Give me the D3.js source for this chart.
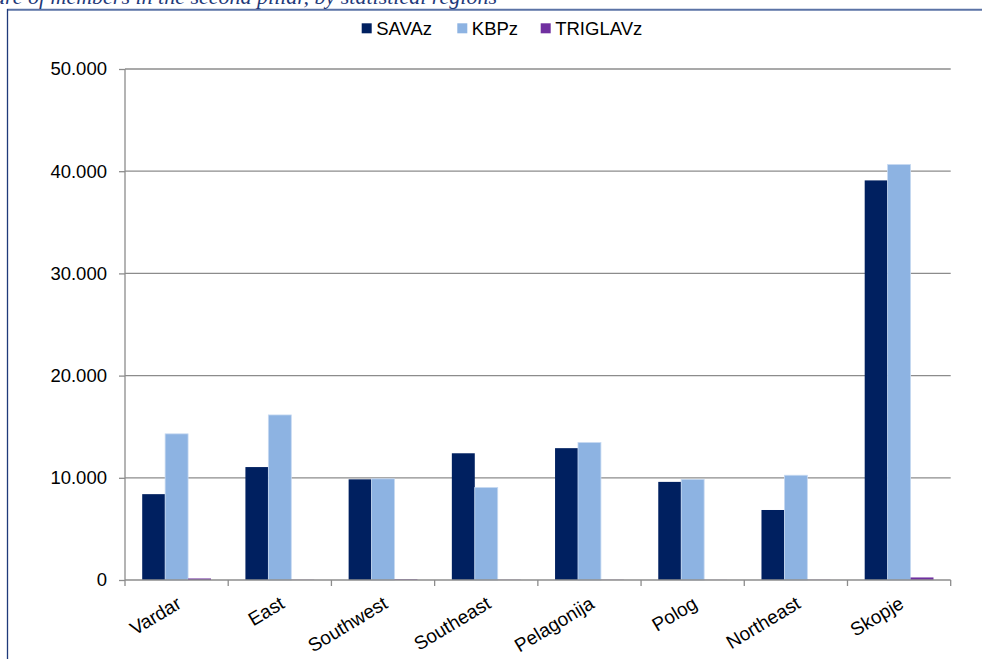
<!DOCTYPE html>
<html>
<head>
<meta charset="utf-8">
<script src="https://cdn.jsdelivr.net/npm/d3@7"></script>
<style>
  html, body { margin: 0; padding: 0; background: #fff; }
  svg { display: block; }
</style>
</head>
<body>
<svg id="chart" width="982" height="659"></svg>
<script>
const categories = ["Vardar", "East", "Southwest", "Southeast", "Pelagonija", "Polog", "Northeast", "Skopje"];
const seriesNames = ["SAVAz", "KBPz", "TRIGLAVz"];
const savaValues = [8400, 11050, 9850, 12400, 12900, 9600, 6850, 39100];
const kbpValues = [14300, 16150, 9900, 9050, 13450, 9850, 10250, 40650];
const triglavValues = [150, 20, 60, 20, 20, 10, 20, 250];
const yTicks = [0, 10000, 20000, 30000, 40000, 50000];
const yTickLabels = ["0", "10.000", "20.000", "30.000", "40.000", "50.000"];
const colors = ["#002060", "#8DB3E2", "#7030A0"];
const titleText = "Structure of members in the second pillar, by statistical regions";

(function () {
const svg = d3.select("#chart");
const font = "'Liberation Sans', Arial, sans-serif";

const pLeft = 125, pRight = 950.7, pTop = 69, pBottom = 580;

// frame
svg.append("line").attr("x1", 7).attr("x2", 982).attr("y1", 9.8).attr("y2", 9.8)
  .attr("stroke", "#5B73A6").attr("stroke-width", 2);
svg.append("line").attr("x1", 7.5).attr("x2", 7.5).attr("y1", 9).attr("y2", 659)
  .attr("stroke", "#1F3A7A").attr("stroke-width", 1.3);

// cut-off title (the reference shows only its lower part)
svg.append("text").attr("x", 497).attr("y", 3.5)
  .attr("text-anchor", "end")
  .attr("font-family", "'Liberation Serif', 'Times New Roman', serif")
  .attr("font-style", "italic")
  .attr("font-size", 22)
  .attr("fill", "#1F3A7A")
  .text(titleText);

const data = categories.map((c, i) => ({
  cat: c,
  vals: [savaValues[i], kbpValues[i], triglavValues[i]]
}));

const x0 = d3.scaleBand().domain(categories).range([pLeft, pRight]).padding(0);
const bw = x0.bandwidth();
const x1 = d3.scaleBand().domain(seriesNames).range([bw * 1.5 / 9, bw - bw * 1.5 / 9]).padding(0);
const y = d3.scaleLinear().domain([0, 50000]).range([pBottom, pTop]);

// gridlines
svg.append("g").selectAll("line").data(yTicks.filter(d => d > 0)).join("line")
  .attr("x1", pLeft).attr("x2", pRight)
  .attr("y1", d => y(d)).attr("y2", d => y(d))
  .attr("stroke", "#8C8C8C").attr("stroke-width", 1.3);

// y axis
const yAxis = d3.axisLeft(y).tickValues(yTicks)
  .tickFormat((d, i) => yTickLabels[i]).tickSize(6).tickPadding(12);
const gy = svg.append("g").attr("transform", `translate(${pLeft},0)`).call(yAxis);
gy.select(".domain").attr("stroke", "#8C8C8C").attr("stroke-width", 1.3)
  .attr("d", `M0,${pTop}V${pBottom}`);
gy.selectAll(".tick line").attr("stroke", "#8C8C8C").attr("stroke-width", 1.3);
gy.selectAll(".tick text").attr("font-family", font).attr("font-size", 18.5).attr("fill", "#000");

// bars
const groups = svg.append("g").selectAll("g").data(data).join("g")
  .attr("transform", d => `translate(${x0(d.cat)},0)`);
groups.selectAll("rect").data(d => d.vals.map((v, j) => ({ s: seriesNames[j], v, j }))).join("rect")
  .attr("x", d => x1(d.s))
  .attr("width", x1.bandwidth())
  .attr("y", d => y(d.v))
  .attr("height", d => pBottom - y(d.v))
  .attr("fill", d => colors[d.j])
  .attr("stroke", d => d.j === 1 ? "#C6D9F1" : "none")
  .attr("stroke-width", 0.8);

// x axis
const xAxisLine = svg.append("g");
xAxisLine.append("line").attr("x1", pLeft).attr("x2", pRight).attr("y1", pBottom).attr("y2", pBottom)
  .attr("stroke", "#8C8C8C").attr("stroke-width", 1.3);
const boundaries = categories.map(c => x0(c)).concat([pRight]);
xAxisLine.selectAll("line.tk").data(boundaries).join("line").attr("class", "tk")
  .attr("x1", d => d).attr("x2", d => d).attr("y1", pBottom).attr("y2", pBottom + 6)
  .attr("stroke", "#8C8C8C").attr("stroke-width", 1.3);

// x labels
svg.append("g").selectAll("text").data(categories).join("text")
  .attr("transform", d => `translate(${x0(d) + bw / 2 + 6},${pBottom + 27}) rotate(-31)`)
  .attr("text-anchor", "end")
  .attr("font-family", font).attr("font-size", 19).attr("fill", "#000")
  .text(d => d);

// legend
const legendX = [361.7, 457.3, 540.7];
const lg = svg.append("g");
seriesNames.forEach((s, i) => {
  lg.append("rect").attr("x", legendX[i]).attr("y", 23.3).attr("width", 10).attr("height", 10)
    .attr("fill", colors[i]);
  lg.append("text").attr("x", legendX[i] + 14.5).attr("y", 34.5)
    .attr("font-family", font).attr("font-size", 18.5).attr("fill", "#000").text(s);
});
})();
</script>
</body>
</html>
